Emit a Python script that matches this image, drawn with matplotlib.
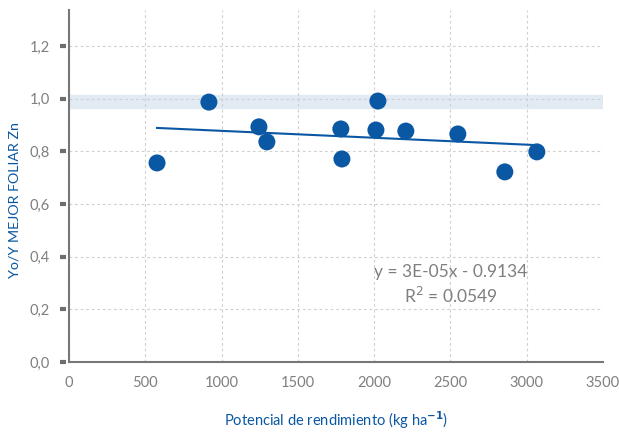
import matplotlib
matplotlib.use("Agg")
import matplotlib.pyplot as plt
import matplotlib.transforms as mtransforms
import numpy as np

# data
potencial = [577, 917, 1245, 1297, 1782, 1789, 2012, 2025, 2208, 2549, 2857, 3067]
yoy = [0.756, 0.987, 0.893, 0.836, 0.885, 0.771, 0.881, 0.991, 0.877, 0.866, 0.722, 0.798]
yticks = [0.0, 0.2, 0.4, 0.6, 0.8, 1.0, 1.2]
ytick_labels = ["0,0", "0,2", "0,4", "0,6", "0,8", "1,0", "1,2"]
xticks = [0, 500, 1000, 1500, 2000, 2500, 3000, 3500]
band = (0.965, 1.013)

blue = "#0a57a4"
gray = "#7f7f7f"
plt.rcParams["font.family"] = ["Lato", "DejaVu Sans"]

fig = plt.figure(figsize=(6.19, 4.32), dpi=100)
ax = fig.add_axes([0.1115, 0.162, 0.8625, 0.815])

ax.axhspan(band[0], band[1], color="#e2eaf3", zorder=0)

x = np.array(potencial)
y = np.array(yoy)
slope, icpt = np.polyfit(x, y, 1)
xl = np.array([x.min(), x.max()])
ax.plot(xl, slope * xl + icpt, color=blue, lw=1.5, zorder=2)
ax.scatter(x, y, s=150, color=blue, zorder=3, edgecolors="none")

ax.set_xlim(0, 3500)
ax.set_ylim(0, 1.337)
ax.set_xticks(xticks)
ax.set_yticks(yticks)
ax.set_yticklabels(ytick_labels)
ax.grid(True, color="#d0d0d0", ls=(0, (2.5, 2.5)), lw=0.8)
ax.set_axisbelow(True)

for s in ["top", "right"]:
    ax.spines[s].set_visible(False)
for s in ["left", "bottom"]:
    ax.spines[s].set_color("#777777")
    ax.spines[s].set_linewidth(1.5)

# short tick marks with a small gap from the axis
trans = mtransforms.blended_transform_factory(ax.transAxes, ax.transData)
for t in yticks:
    ax.plot([-0.017, -0.0065], [t, t], transform=trans, color="#6e6e6e",
            lw=3, solid_capstyle="butt", clip_on=False)

ax.tick_params(axis="y", length=0, labelcolor=gray, labelsize=10.5, pad=14)
ax.tick_params(axis="x", length=0, labelcolor=gray, labelsize=10.5, pad=10)

ax.set_ylabel("Yo/Y MEJOR FOLIAR Zn", color=blue, fontsize=10.3)
ax.yaxis.set_label_coords(-0.09, 0.46)
ax.set_xlabel("Potencial de rendimiento (kg ha$^{\\mathbf{-1}}$)", color=blue,
              fontsize=10.5, labelpad=14)

ax.text(2500, 0.343, "y = 3E-05x - 0.9134", color=gray, fontsize=12.5, ha="center", va="center")
ax.text(2500, 0.252, "R$^{2}$ = 0.0549", color=gray, fontsize=12.5, ha="center", va="center")

fig.savefig("out.png", dpi=100)
